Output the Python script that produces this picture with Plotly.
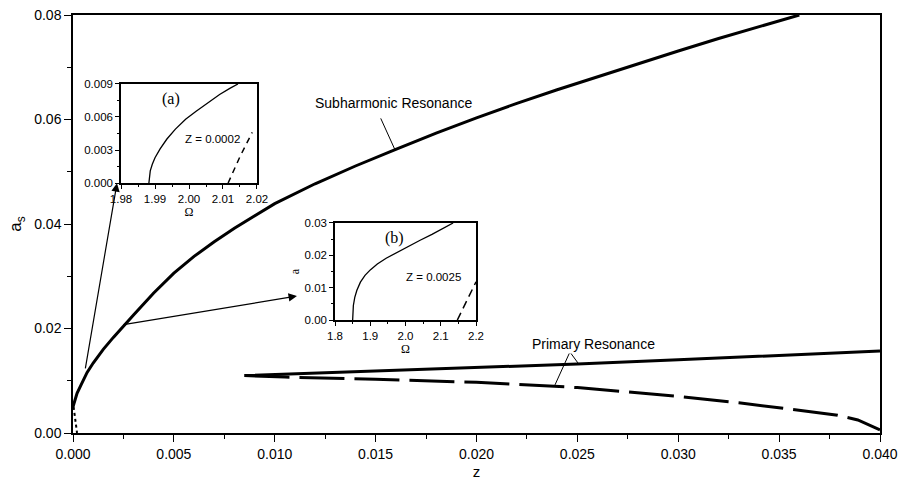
import plotly.graph_objects as go

# ---- main chart data ----
sub_solid_z = [0.0, 0.0001, 0.0002, 0.0004, 0.0007, 0.001, 0.0015, 0.002, 0.0025, 0.003, 0.004, 0.005,
               0.006, 0.007, 0.008, 0.009, 0.010, 0.012, 0.014, 0.016, 0.018, 0.020, 0.022, 0.024,
               0.026, 0.028, 0.030, 0.032, 0.034, 0.036]
sub_solid_a = [0.0050, 0.0066, 0.0076, 0.0092, 0.0116, 0.0134, 0.0160, 0.0183, 0.0205, 0.0226, 0.0268, 0.0306,
               0.0338, 0.0366, 0.0392, 0.0416, 0.0439, 0.0477, 0.0511, 0.0543, 0.0574, 0.0603, 0.0631, 0.0657,
               0.0682, 0.0707, 0.0731, 0.0755, 0.0778, 0.0800]
sub_dash_z = [0.00003, 0.00008, 0.00013, 0.00017, 0.0002]
sub_dash_a = [0.0050, 0.0035, 0.0022, 0.0010, 0.0]

pri_solid_z = [0.0085, 0.0100, 0.0150, 0.0200, 0.0250, 0.0300, 0.0350, 0.0400]
pri_solid_a = [0.0110, 0.0112, 0.0118, 0.0125, 0.0132, 0.0140, 0.0148, 0.0157]
pri_dash_z = [0.0085, 0.0105, 0.0150, 0.0200, 0.0250, 0.0300, 0.0330, 0.0360, 0.0379, 0.0389, 0.0400]
pri_dash_a = [0.0110, 0.0107, 0.0103, 0.0097, 0.0087, 0.0070, 0.0058, 0.0044, 0.0034, 0.0025, 0.0006]

# ---- inset (a): Z = 0.0002 ----
ia_solid_w = [1.9882, 1.9883, 1.9886, 1.9892, 1.9900, 1.9915, 1.9935, 1.9960, 1.9990, 2.0020, 2.0055, 2.0090, 2.0120, 2.0144]
ia_solid_a = [0.0, 0.0006, 0.0011, 0.0017, 0.0023, 0.0031, 0.0040, 0.0049, 0.0058, 0.0065, 0.0073, 0.00805, 0.0086, 0.0090]
ia_dash_w = [2.0115, 2.0150, 2.0186]
ia_dash_a = [0.0, 0.0024, 0.0046]

# ---- inset (b): Z = 0.0025 ----
ib_solid_w = [1.850, 1.8505, 1.852, 1.856, 1.862, 1.872, 1.885, 1.900, 1.920, 1.945, 1.975, 2.005, 2.040, 2.075, 2.105, 2.135]
ib_solid_a = [0.0, 0.0022, 0.0045, 0.0070, 0.0092, 0.0117, 0.0138, 0.0155, 0.0173, 0.0191, 0.0209, 0.0226, 0.0246, 0.0265, 0.0283, 0.0300]
ib_dash_w = [2.147, 2.175, 2.200]
ib_dash_a = [0.0, 0.0060, 0.0118]

main_xticks = [0.000, 0.005, 0.010, 0.015, 0.020, 0.025, 0.030, 0.035, 0.040]
main_yticks = [0.00, 0.02, 0.04, 0.06, 0.08]
ia_xticks = [1.98, 1.99, 2.00, 2.01, 2.02]
ia_yticks = [0.000, 0.003, 0.006, 0.009]
ib_xticks = [1.8, 1.9, 2.0, 2.1, 2.2]
ib_yticks = [0.00, 0.01, 0.02, 0.03]

SANS = "Arial, Liberation Sans, sans-serif"
SERIF = "Times New Roman, Liberation Serif, serif"
K = "black"

fig = go.Figure()

def line(x, y, xa, ya, w, dash="solid"):
    fig.add_trace(go.Scatter(x=x, y=y, mode="lines", xaxis=xa, yaxis=ya,
                             line=dict(color=K, width=w, dash=dash),
                             showlegend=False, hoverinfo="skip"))

line(sub_solid_z, sub_solid_a, "x", "y", 3)
line(sub_dash_z, sub_dash_a, "x", "y", 2, "3px,3px")
line(pri_solid_z, pri_solid_a, "x", "y", 3)
line(pri_dash_z, pri_dash_a, "x", "y", 3, "45px,10px")
line(ia_solid_w, ia_solid_a, "x2", "y2", 1.3)
line(ia_dash_w, ia_dash_a, "x2", "y2", 1.5, "6px,5px")
line(ib_solid_w, ib_solid_a, "x3", "y3", 1.3)
line(ib_dash_w, ib_dash_a, "x3", "y3", 1.5, "8px,5px")

def axis(rng, ticks, fmt, dom, size, minor_dtick, anchor, ticklen=7):
    return dict(range=rng, tickvals=ticks, tickformat=fmt, domain=dom, anchor=anchor,
                automargin=False,
                showgrid=False, zeroline=False, showline=True, linecolor=K, linewidth=1.5,
                mirror=True, ticks="outside", ticklen=ticklen, tickwidth=1.2, tickcolor=K,
                tickfont=dict(family=SANS, size=size, color=K),
                minor=dict(dtick=minor_dtick, ticks="outside", ticklen=ticklen * 0.6,
                           tickwidth=1, tickcolor=K, showgrid=False))

fig.update_layout(
    width=906, height=482,
    margin=dict(l=73, r=26, t=15, b=49),
    paper_bgcolor="white", plot_bgcolor="white",
    xaxis=axis([0, 0.040], main_xticks, ".3f", [0, 1], 14, 0.0025, "y"),
    yaxis=axis([0, 0.08], main_yticks, ".2f", [0, 1], 14, 0.01, "x"),
    xaxis2=axis([1.98, 2.02], ia_xticks, ".2f", [0.0595, 0.228], 11.5, 0.005, "y2", 4),
    yaxis2=axis([0, 0.009], ia_yticks, ".3f", [0.598, 0.835], 11.5, 0.0015, "x2", 4),
    xaxis3=axis([1.8, 2.2], ib_xticks, ".1f", [0.3247, 0.4994], 11.5, 0.05, "y3", 4),
    yaxis3=axis([0, 0.03], ib_yticks, ".2f", [0.2703, 0.5024], 11.5, 0.005, "x3", 4),
)
fig.layout.xaxis.title = dict(text="z", font=dict(family=SANS, size=15, color=K), standoff=6)
fig.layout.yaxis.title = dict(text="a<sub>s</sub>", font=dict(family=SANS, size=17, color=K), standoff=8)
fig.layout.xaxis2.title = dict(text="Ω", font=dict(family=SERIF, size=12, color=K), standoff=0)
fig.layout.xaxis3.title = dict(text="Ω", font=dict(family=SERIF, size=12, color=K), standoff=0)
fig.layout.yaxis3.title = dict(text="a", font=dict(family=SERIF, size=12, color=K), standoff=2)

def text(x, y, s, xr, yr, size, fam=SANS):
    fig.add_annotation(x=x, y=y, xref=xr, yref=yr, text=s, showarrow=False,
                       font=dict(family=fam, size=size, color=K))

text(0.0159, 0.0632, "Subharmonic Resonance", "x", "y", 14)
text(0.0258, 0.0171, "Primary Resonance", "x", "y", 14)
text(1.9948, 0.0076, "(a)", "x2", "y2", 16, SERIF)
text(2.0068, 0.0040, "Z = 0.0002", "x2", "y2", 11.5)
text(1.97, 0.0253, "(b)", "x3", "y3", 16, SERIF)
text(2.08, 0.0132, "Z = 0.0025", "x3", "y3", 11.5)

def seg(x0, y0, x1, y1, head=0, w=1):
    fig.add_annotation(x=x1, y=y1, ax=x0, ay=y0, xref="x", yref="y", axref="x", ayref="y",
                       text="", showarrow=True, arrowhead=head, arrowsize=1.4, arrowwidth=w,
                       arrowcolor=K, standoff=0, startstandoff=0)

# arrows to insets
seg(0.0006, 0.0121, 0.00218, 0.0478, head=2, w=1.2)
seg(0.00243, 0.0207, 0.0111, 0.0262, head=2, w=1.2)
# leader lines
seg(0.01522, 0.0605, 0.01596, 0.0542)
seg(0.02463, 0.0155, 0.02503, 0.0134)
seg(0.02463, 0.0155, 0.02389, 0.0092)

fig.write_html("out.html")
